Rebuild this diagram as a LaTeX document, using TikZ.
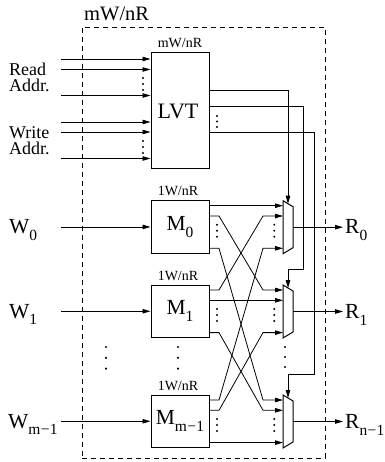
\documentclass[tikz,border=0pt]{standalone}
\usepackage{fontspec}
\setmainfont{Liberation Serif}
\usepackage{graphicx}
\usetikzlibrary{arrows.meta}
\newcommand\lsub[1]{\raisebox{-0.32em}{\scalebox{0.72}{#1}}}
\newcommand\dotcol[4]{\foreach \k in {0,1,2} {\fill (#1,#2+\k*#3) circle (#4);}}
\begin{document}
\begin{tikzpicture}[x=1pt,y=-1pt,
  box/.style={draw, line width=1pt, inner sep=0pt},
  wire/.style={line width=0.8pt},
  arr/.style={wire,-{Triangle[length=8pt,width=4.5pt]}},
  big/.style={font=\fontsize{21.5}{21.5}\selectfont, inner sep=0pt},
  mid/.style={font=\fontsize{18}{16}\selectfont, inner sep=0pt, align=left},
  small/.style={font=\fontsize{14}{14}\selectfont, inner sep=0pt},
  outline/.style={draw, line width=0.8pt, dash pattern=on 5pt off 4pt, inner sep=0pt}]
\useasboundingbox (0,0) rectangle (384,462);

% outer dashed box and title
\node[outline, minimum width=243pt, minimum height=431pt] (outer) at (203.5,242.5) {};
\node[anchor=base west, font=\fontsize{20.5}{20.5}\selectfont, inner sep=0pt] (title) at (84,21) {mW/nR};

% LVT
\node[box, minimum width=58pt, minimum height=116pt, font=\fontsize{22}{22}\selectfont] (lvt) at (180,111) {\hspace*{-4pt}LVT};
\node[small, anchor=base] (lvtlbl) at (180,47.5) {mW/nR};

% address inputs
\foreach \n/\y in {1/59,2/69.5,3/95.5,4/122,5/132,6/158.5} {
  \coordinate (ain\n) at (61,\y);
  \draw[arr] (ain\n) -- (ain\n -| lvt.west);
}
\dotcol{143}{78}{6}{1.1pt}
\dotcol{143}{141}{6}{1.1pt}
\node[mid, anchor=base west] (readl) at (9,91.5) {Read\\Addr.};
\node[mid, anchor=base west] (writel) at (9,155) {Write\\Addr.};

% memories, muxes
\foreach \i/\t/\s in {0/200.7/0, 1/285/1, 2/395/m\kern0.5pt{\fontsize{21.5}{21.5}\selectfont\char"2212}\kern0.5pt1} {
  \node[box, big, minimum width=58pt, minimum height=52.5pt] (m\i) at (180,\t+26.25) {M\lsub{\s}};
  \node[small, anchor=base] (ml\i) at (178,\t-5) {1W/nR};
  \coordinate (win\i) at (61,\t+26.25);
  \draw[arr] (win\i) -- (m\i.west);
  \draw[line width=1pt] (283,\t) coordinate (mux\i)
     -- (293,\t+6) -- (293,\t+47) -- (283,\t+53) -- cycle;
  \coordinate (mtop\i) at (288,\t+3);
  \coordinate (mout\i) at (293,\t+26.5);
  \node[big, anchor=base west] (r\i) at (345,\t+33.2) {R\lsub{\ifnum\i=2 n\kern0.5pt{\fontsize{21.5}{21.5}\selectfont\char"2212}\kern0.5pt1\else\i\fi}};
  \draw[arr] (mout\i) -- (343,\t+26.5) coordinate (rin\i);
  \foreach \k/\o in {0/5,1/15.3,2/47.6} {
    \coordinate (mo\i\k) at (209,\t+\o);
    \coordinate (xi\i\k) at (283,\t+\o);
  }
  \dotcol{217}{\t+24}{6}{1.1pt}
  \dotcol{274.3}{\t+24}{6}{1.1pt}
}
\node[big, anchor=base west] (w0) at (9,233.5) {W\lsub{0}};
\node[big, anchor=base west] (w1) at (9,318) {W\lsub{1}};
\node[big, anchor=base west] (w2) at (8,428) {W\lsub{m\kern0.5pt{\fontsize{21.5}{21.5}\selectfont\char"2212}\kern0.5pt1}};

% crossbar wiring: memory i output j -> mux j input i
\foreach \i in {0,1,2} {
  \foreach \j in {0,1,2} {
    \ifnum\i=\j
      \draw[arr] (mo\i\j) -- (xi\j\i);
    \else
      \draw[arr] (mo\i\j) -- ++(10,0) -- ([xshift=-20pt]xi\j\i) -- (xi\j\i);
    \fi
  }
}

% LVT select lines
\coordinate (lo0) at (209,90);
\coordinate (lo1) at (209,106.5);
\coordinate (lo2) at (209,132);
\dotcol{217}{116}{5.5}{1.1pt}
\draw[arr] (lo0) -- (288,90) -- (mtop0);
\draw[arr] (lo1) -- (303,106.5) -- (303,269) -- (288,269) -- (mtop1);
\draw[arr] (lo2) -- (314,132) -- (314,374) -- (288,374) -- (mtop2);

% vertical ellipses between rows
\dotcol{106}{347}{10.8}{1.2pt}
\dotcol{178}{347}{10.8}{1.2pt}
\dotcol{285}{347}{10}{1.2pt}
\end{tikzpicture}
\end{document}
